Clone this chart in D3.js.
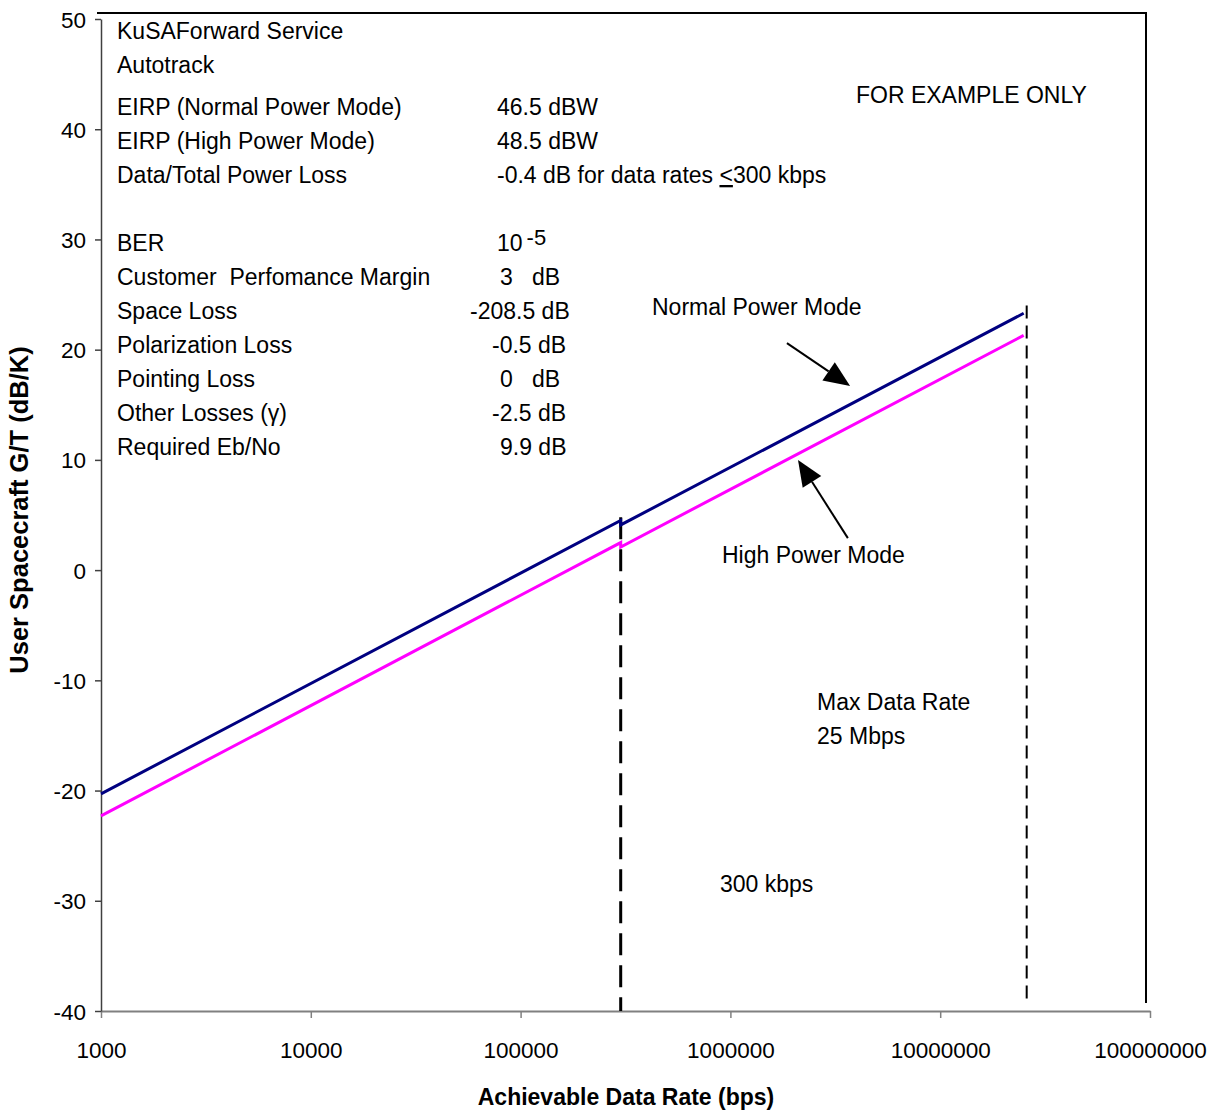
<!DOCTYPE html>
<html><head><meta charset="utf-8">
<script src="https://cdn.jsdelivr.net/npm/d3@7"></script>
<style>
body{margin:0;background:#fff;}
text{font-family:"Liberation Sans",Arial,sans-serif;fill:#000;}
</style></head>
<body>
<svg id="c" width="1221" height="1113"></svg>
<script>
// ---- data ----
const xTicks = [1e3, 1e4, 1e5, 1e6, 1e7, 1e8];
const yTicks = [-40, -30, -20, -10, 0, 10, 20, 30, 40, 50];
const normalRate = [1e3, 3e5, 3e5, 2.5e7];
const normalGT   = [-20.3, 4.5, 4.1, 23.3];
const highRate   = [1e3, 3e5, 3e5, 2.5e7];
const highGT     = [-22.3, 2.5, 2.1, 21.3];
const breakRate = 3e5;       // 300 kbps
const maxRate = 2.5e7;       // 25 Mbps
const xTitle = "Achievable Data Rate (bps)";
const yTitle = "User Spacecraft G/T (dB/K)";
const paramLabels = ["EIRP (Normal Power Mode)","EIRP (High Power Mode)","Data/Total Power Loss"];
const paramValues = ["46.5 dBW","48.5 dBW","-0.4 dB for data rates "];
const linkLabels = ["BER","Customer  Perfomance Margin","Space Loss","Polarization Loss","Pointing Loss","Other Losses (\u03b3)","Required Eb/No"];
const linkValues = ["10","3   dB","-208.5 dB","-0.5 dB","0   dB","-2.5 dB","9.9 dB"];

// ---- layout ----
const svg = d3.select("#c");
const x = d3.scaleLog().domain([1e3, 1e8]).range([101, 1150]);
const y = d3.scaleLinear().domain([-40, 50]).range([1011, 19]);

// frame (plot area border top/right)
svg.append("line").attr("x1",97).attr("x2",1147).attr("y1",13).attr("y2",13).attr("stroke","#000").attr("stroke-width",2);
svg.append("line").attr("x1",1146).attr("x2",1146).attr("y1",13).attr("y2",1003).attr("stroke","#000").attr("stroke-width",2);

// axes
const gx = svg.append("g").attr("transform","translate(0,1011)")
  .call(d3.axisBottom(x).tickValues(xTicks).tickFormat(d=>String(d)).tickSize(7).tickSizeOuter(0));
gx.select(".domain").attr("stroke","#808080").attr("stroke-width",2);
gx.selectAll(".tick line").attr("stroke","#808080").attr("stroke-width",1.5);
gx.selectAll(".tick text").attr("y",0).attr("dy",0).attr("transform","translate(0,47)")
  .style("font-size","22.5px").style("font-family","Liberation Sans, Arial, sans-serif").attr("fill","#000");

const gy = svg.append("g").attr("transform","translate(101,0)")
  .call(d3.axisLeft(y).tickValues(yTicks).tickFormat(d=>String(d)).tickSize(6).tickSizeOuter(0));
gy.select(".domain").attr("stroke","#404040").attr("stroke-width",1.5);
gy.selectAll(".tick line").attr("stroke","#404040").attr("stroke-width",1.5);
gy.selectAll(".tick text").attr("x",-15).attr("dy","0.36em")
  .style("font-size","22.5px").style("font-family","Liberation Sans, Arial, sans-serif").attr("fill","#000");

// dashed reference lines
svg.append("line").attr("x1",x(breakRate)).attr("x2",x(breakRate))
  .attr("y1",y(4.8)).attr("y2",y(-40)).attr("stroke","#000").attr("stroke-width",3).attr("stroke-dasharray","22,10");
svg.append("line").attr("x1",x(maxRate)+3).attr("x2",x(maxRate)+3)
  .attr("y1",y(24.0)).attr("y2",y(-39.3)).attr("stroke","#000").attr("stroke-width",2).attr("stroke-dasharray","13,7");

// series lines
const line = d3.line().x(d=>x(d[0])).y(d=>y(d[1]));
svg.append("path").datum(d3.zip(highRate, highGT)).attr("d",line)
  .attr("fill","none").attr("stroke","#FF00FF").attr("stroke-width",3);
svg.append("path").datum(d3.zip(normalRate, normalGT)).attr("d",line)
  .attr("fill","none").attr("stroke","#000080").attr("stroke-width",3);

// arrows (data coords)
const arrows = [
  {from:[1.86e6,20.6], to:[3.72e6,16.7]},
  {from:[3.63e6,2.9],  to:[2.1e6,10.0]}
];
arrows.forEach(a=>{
  const x1=x(a.from[0]), y1=y(a.from[1]), x2=x(a.to[0]), y2=y(a.to[1]);
  const ang=Math.atan2(y2-y1,x2-x1), L=26, W=11;
  const bx=x2-L*Math.cos(ang), by=y2-L*Math.sin(ang);
  svg.append("line").attr("x1",x1).attr("y1",y1).attr("x2",bx).attr("y2",by).attr("stroke","#000").attr("stroke-width",2);
  const px=-Math.sin(ang)*W, py=Math.cos(ang)*W;
  svg.append("path").attr("d",`M${x2},${y2}L${bx+px},${by+py}L${bx-px},${by-py}Z`).attr("fill","#000");
});

// text helper
function txt(t, tx, ty, opts={}) {
  const el = svg.append("text").attr("x",tx).attr("y",ty).style("font-size",(opts.size||23)+"px")
    .style("white-space","pre").text(t);
  if (opts.bold) el.style("font-weight","bold");
  if (opts.anchor) el.attr("text-anchor",opts.anchor);
  return el;
}
txt("KuSAForward Service",117,39);
txt("Autotrack",117,73);
paramLabels.forEach((l,i)=>txt(l,117,115+34*i));
paramValues.forEach((v,i)=>{
  const t = txt(v,497,115+34*i);
  if (i===2) {
    t.append("tspan").style("text-decoration","underline").text("<");
    t.append("tspan").text("300 kbps");
  }
});
const linkValX = [497,500,470,492,500,492,500];
linkLabels.forEach((l,i)=>txt(l,117,251+34*i));
linkValues.forEach((v,i)=>{
  const t = txt(v,linkValX[i],251+34*i);
  if (i===0) { t.append("tspan").attr("dx",4).attr("dy",-6).style("font-size","22px").text("-5"); }
});
txt("FOR EXAMPLE ONLY",856,103);
txt("Normal Power Mode",652,315);
txt("High Power Mode",722,563);
txt("Max Data Rate",817,710);
txt("25 Mbps",817,744);
txt("300 kbps",720,892);

// axis titles
txt(xTitle,626,1105,{bold:true,anchor:"middle",size:23});
svg.append("text").attr("transform","translate(28,510) rotate(-90)").attr("text-anchor","middle")
  .style("font-size","25.5px").style("font-weight","bold").text(yTitle);
</script>
</body></html>
